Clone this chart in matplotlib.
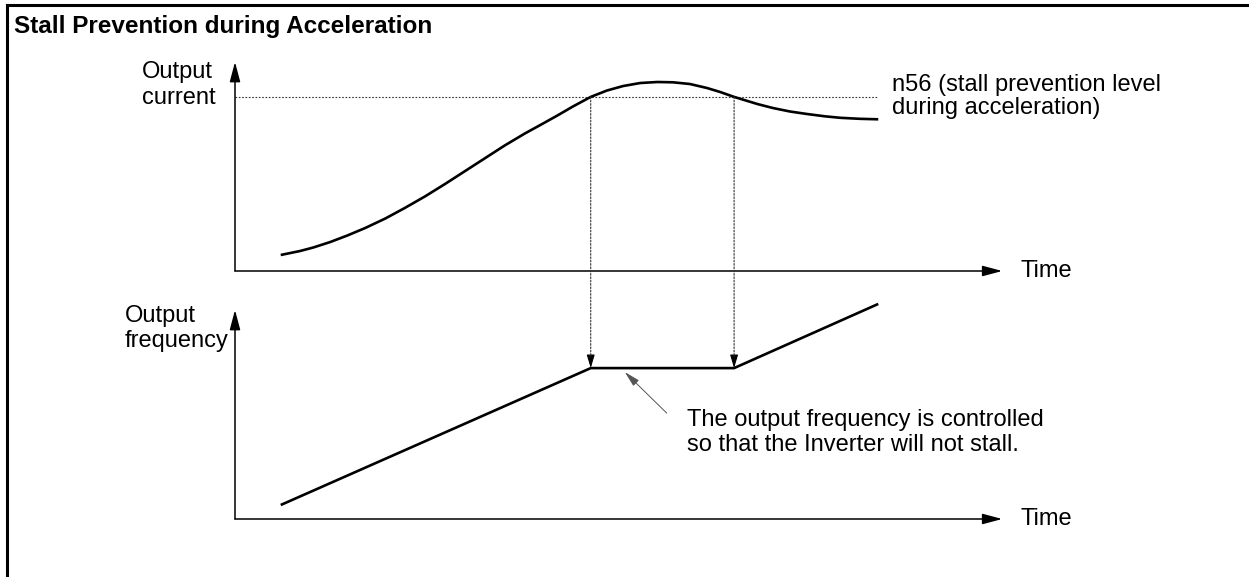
import matplotlib
matplotlib.use("Agg")
import matplotlib.pyplot as plt
from matplotlib.patches import ConnectionPatch
from matplotlib.lines import Line2D

plt.rcParams['font.family'] = ['Liberation Sans', 'DejaVu Sans']

# Time axis is in arbitrary units (0..10), both signals in percent of axis height
t_current = [0.59, 0.84, 1.01, 1.23, 1.45, 1.68, 1.94, 2.19, 2.45, 2.71, 2.97,
             3.23, 3.48, 3.74, 3.94, 4.16, 4.36, 4.59, 4.80, 5.01, 5.23, 5.45,
             5.65, 5.87, 6.09, 6.26, 6.44, 6.74, 6.94, 7.16, 7.38, 7.61, 7.81,
             8.06, 8.30]
current = [7.66, 9.57, 11.24, 13.88, 16.99, 20.57, 25.12, 30.14, 35.65, 41.63,
           47.85, 54.07, 60.05, 65.79, 69.86, 74.40, 78.71, 83.30, 86.36, 88.52,
           89.95, 90.43, 90.29, 89.47, 87.56, 85.65, 83.30, 79.90, 77.99, 76.32,
           75.12, 74.02, 73.30, 72.82, 72.58]
stall_level = 83.3
stall_times = [4.59, 6.44]
t_freq = [0.59, 4.59, 6.44, 8.30]
freq = [6.7, 72.2, 72.2, 102.9]
freq_hold = 72.2

W, H = 1249, 577
fig = plt.figure(figsize=(W / 100, H / 100), dpi=100)


def px_box(x0, y0, x1, y1):
    return [x0 / W, 1 - y1 / H, (x1 - x0) / W, (y1 - y0) / H]


ax_top = fig.add_axes(px_box(235, 62, 1010, 271))
ax_bot = fig.add_axes(px_box(235, 310, 1010, 519))

FS = 17
axis_arrow = dict(arrowstyle='-|>,head_length=1.2,head_width=0.32', lw=1.1,
                  color='black', shrinkA=0, shrinkB=0, mutation_scale=10)

for ax in (ax_top, ax_bot):
    ax.set_xlim(0, 10)
    ax.set_ylim(0, 100)
    ax.axis('off')
    ax.annotate('', xy=(9.9, 0), xytext=(0, 0), arrowprops=axis_arrow,
                annotation_clip=False)
    ax.annotate('', xy=(0, 100), xytext=(0, 0), arrowprops=axis_arrow,
                annotation_clip=False)
    ax.text(10.13, 0, "Time", va='center', ha='left', fontsize=FS)

# Output current and stall prevention level
ax_top.plot([0, t_current[-1]], [stall_level, stall_level], ls=(0, (1.5, 1.5)),
            lw=0.8, color='#333333')
ax_top.plot(t_current, current, color='black', lw=1.9, clip_on=False,
            solid_capstyle='butt', solid_joinstyle='round')
ax_top.text(8.48, 89.0, "n56 (stall prevention level", va='center', fontsize=FS)
ax_top.text(8.48, 78.0, "during acceleration)", va='center', fontsize=FS)
ax_top.text(-1.20, 95.2, "Output", va='center', fontsize=FS)
ax_top.text(-1.20, 83.0, "current", va='center', fontsize=FS)

# Output frequency
ax_bot.plot(t_freq, freq, color='black', lw=1.9, clip_on=False,
            solid_capstyle='butt')
ax_bot.text(-1.42, 97.1, "Output", va='center', fontsize=FS)
ax_bot.text(-1.42, 85.0, "frequency", va='center', fontsize=FS)

# Dotted drop lines from the stall crossings down to the held frequency
for t in stall_times:
    con = ConnectionPatch(xyA=(t, stall_level), coordsA=ax_top.transData,
                          xyB=(t, freq_hold), coordsB=ax_bot.transData,
                          arrowstyle='-', ls=(0, (1.5, 1.5)), lw=0.8,
                          color='#333333', shrinkA=0, shrinkB=8)
    fig.add_artist(con)
    ax_bot.annotate('', xy=(t, freq_hold), xytext=(0, 9),
                    textcoords='offset points',
                    arrowprops=dict(arrowstyle='-|>,head_length=1.0,head_width=0.3',
                                    lw=0.8, color='black', shrinkA=0, shrinkB=0,
                                    mutation_scale=8),
                    annotation_clip=False)

# Pointer to the held segment
ax_bot.annotate('', xy=(5.03, 70.3), xytext=(5.57, 50.7),
                arrowprops=dict(arrowstyle='-|>,head_length=1.2,head_width=0.3',
                                lw=0.7, color='#555555', shrinkA=0, shrinkB=0,
                                mutation_scale=8))
ax_bot.text(5.83, 47.4, "The output frequency is controlled", va='center',
            fontsize=FS)
ax_bot.text(5.83, 35.4, "so that the Inverter will not stall.", va='center',
            fontsize=FS)

# Title and frame
fig.text(14 / W, 1 - 33 / H, "Stall Prevention during Acceleration",
         fontweight='bold', fontsize=17.5, va='baseline', ha='left')
fig.add_artist(Line2D([7 / W, 7 / W], [0, 1 - 5 / H], lw=2.2, color='black'))
fig.add_artist(Line2D([7 / W, 1], [1 - 5 / H, 1 - 5 / H], lw=2.2, color='black'))

fig.savefig("out.png", dpi=100)
